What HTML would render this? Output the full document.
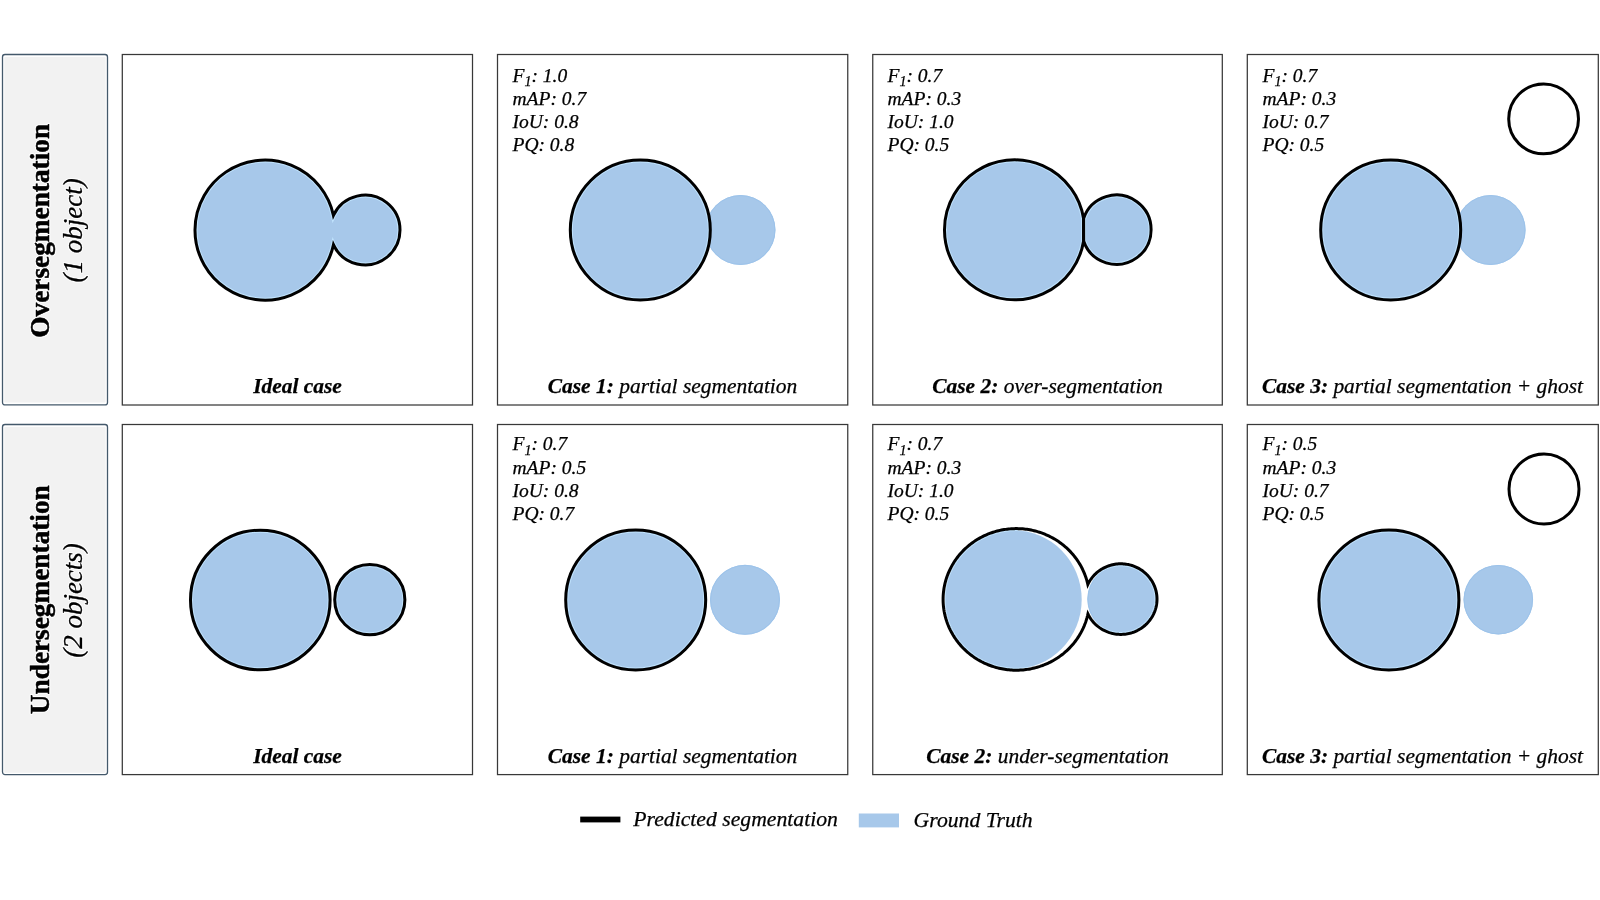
<!DOCTYPE html><html><head><meta charset="utf-8"><style>html,body{margin:0;padding:0;background:#fff;width:1600px;height:900px;overflow:hidden}svg{display:block;will-change:transform}text{font-family:"Liberation Serif",serif}.t{stroke:#000;stroke-width:0.25}</style></head><body>
<svg width="1600" height="900" viewBox="0 0 1600 900">
<rect x="2.5" y="54.5" width="105" height="350.4" rx="2.5" ry="2.5" fill="#fff" stroke="#44596b" stroke-width="1.3"/>
<rect x="4.3" y="56.9" width="101.3" height="345.7" rx="1" fill="#f2f2f2"/>
<g transform="translate(0,229.6) rotate(-90)"><text x="-1.2" y="48.8" text-anchor="middle" font-size="27.3" font-weight="bold" fill="#fff" stroke="#fff" stroke-width="2.6" stroke-linejoin="round">Oversegmentation</text><text x="-0.8" y="81.8" text-anchor="middle" font-size="27" font-style="italic" fill="#fff" stroke="#fff" stroke-width="2.4" stroke-linejoin="round">(1 object)</text><text x="-1.2" y="48.8" text-anchor="middle" font-size="27.3" font-weight="bold" stroke="#000" stroke-width="0.5">Oversegmentation</text><text x="-0.8" y="81.8" text-anchor="middle" font-size="27" font-style="italic" stroke="#000" stroke-width="0.3">(1 object)</text></g>
<rect x="2.5" y="424.5" width="105" height="350.1" rx="2.5" ry="2.5" fill="#fff" stroke="#44596b" stroke-width="1.3"/>
<rect x="4.3" y="427.0" width="101.3" height="345.7" rx="1" fill="#f2f2f2"/>
<g transform="translate(0,599.7) rotate(-90)"><text x="0.0" y="48.8" text-anchor="middle" font-size="27.3" font-weight="bold" fill="#fff" stroke="#fff" stroke-width="2.6" stroke-linejoin="round">Undersegmentation</text><text x="-0.8" y="81.8" text-anchor="middle" font-size="27" font-style="italic" fill="#fff" stroke="#fff" stroke-width="2.4" stroke-linejoin="round">(2 objects)</text><text x="0.0" y="48.8" text-anchor="middle" font-size="27.3" font-weight="bold" stroke="#000" stroke-width="0.5">Undersegmentation</text><text x="-0.8" y="81.8" text-anchor="middle" font-size="27" font-style="italic" stroke="#000" stroke-width="0.3">(2 objects)</text></g>
<rect x="122.3" y="54.5" width="350.2" height="350.5" fill="#fff" stroke="#383838" stroke-width="1.25"/>
<rect x="497.5" y="54.5" width="350.25" height="350.5" fill="#fff" stroke="#383838" stroke-width="1.25"/>
<rect x="872.75" y="54.5" width="349.55" height="350.5" fill="#fff" stroke="#383838" stroke-width="1.25"/>
<rect x="1247.3" y="54.5" width="351.0" height="350.5" fill="#fff" stroke="#383838" stroke-width="1.25"/>
<rect x="122.3" y="424.5" width="350.2" height="350.1" fill="#fff" stroke="#383838" stroke-width="1.25"/>
<rect x="497.5" y="424.5" width="350.25" height="350.1" fill="#fff" stroke="#383838" stroke-width="1.25"/>
<rect x="872.75" y="424.5" width="349.55" height="350.1" fill="#fff" stroke="#383838" stroke-width="1.25"/>
<rect x="1247.3" y="424.5" width="351.0" height="350.1" fill="#fff" stroke="#383838" stroke-width="1.25"/>
<defs><clipPath id="cu"><path d="M333.43,215.38 A70,70 0 1 0 333.45,244.75 A34.9,34.9 0 1 0 333.43,215.38 Z"/></clipPath></defs>
<path d="M333.43,215.38 A70,70 0 1 0 333.45,244.75 A34.9,34.9 0 1 0 333.43,215.38 Z" fill="#a7c8ea"/>
<path d="M333.43,215.38 A70,70 0 1 0 333.45,244.75 A34.9,34.9 0 1 0 333.43,215.38 Z" fill="none" stroke="#c0e3fd" stroke-width="5.0" clip-path="url(#cu)"/>
<path d="M333.43,215.38 A70,70 0 1 0 333.45,244.75 A34.9,34.9 0 1 0 333.43,215.38 Z" fill="none" stroke="#000" stroke-width="3.0" stroke-linejoin="miter"/>
<text x="297.5" y="392.5" text-anchor="middle" class="t" font-size="21.45" font-style="italic" font-weight="bold">Ideal case</text>
<circle cx="740.5" cy="230" r="35" fill="#a7c8ea"/><circle cx="740.5" cy="230" r="34.4" fill="none" stroke="#9cc3ea" stroke-width="1"/>
<circle cx="640.3" cy="230" r="70" fill="#a7c8ea"/><circle cx="640.3" cy="230" r="68.0" fill="none" stroke="#c0e3fd" stroke-width="1"/><circle cx="640.3" cy="230" r="70" fill="none" stroke="#000" stroke-width="3.0"/>
<text x="512.5" y="81.7" class="t" font-size="19.5" font-style="italic">F<tspan font-size="14" dy="4.2">1</tspan><tspan dy="-4.2">: 1.0</tspan></text><text x="512.5" y="104.8" class="t" font-size="19.5" font-style="italic">mAP: 0.7</text><text x="512.5" y="128.1" class="t" font-size="19.5" font-style="italic">IoU: 0.8</text><text x="512.5" y="151.4" class="t" font-size="19.5" font-style="italic">PQ: 0.8</text>
<text x="672.5" y="392.5" text-anchor="middle" class="t" font-size="21.45" font-style="italic"><tspan font-weight="bold">Case 1:</tspan> partial segmentation</text>
<defs><clipPath id="spa"><path d="M1083.57,218.45 A70,70 0 1 0 1083.60,241.01 Z"/></clipPath><clipPath id="spb"><path d="M1083.57,218.45 A34.7,34.7 0 1 1 1083.60,241.01 Z"/></clipPath></defs><path d="M1083.57,218.45 A70,70 0 1 0 1083.60,241.01 Z" fill="#a7c8ea"/><path d="M1083.57,218.45 A70,70 0 1 0 1083.60,241.01 Z" fill="none" stroke="#c0e3fd" stroke-width="5.0" clip-path="url(#spa)"/><path d="M1083.57,218.45 A34.7,34.7 0 1 1 1083.60,241.01 Z" fill="#a7c8ea"/><path d="M1083.57,218.45 A34.7,34.7 0 1 1 1083.60,241.01 Z" fill="none" stroke="#c0e3fd" stroke-width="5.0" clip-path="url(#spb)"/><path d="M1083.57,218.45 A70,70 0 1 0 1083.60,241.01 Z" fill="none" stroke="#000" stroke-width="3.0" stroke-linejoin="miter"/><path d="M1083.57,218.45 A34.7,34.7 0 1 1 1083.60,241.01 Z" fill="none" stroke="#000" stroke-width="3.0" stroke-linejoin="miter"/>
<text x="887.5" y="81.7" class="t" font-size="19.5" font-style="italic">F<tspan font-size="14" dy="4.2">1</tspan><tspan dy="-4.2">: 0.7</tspan></text><text x="887.5" y="104.8" class="t" font-size="19.5" font-style="italic">mAP: 0.3</text><text x="887.5" y="128.1" class="t" font-size="19.5" font-style="italic">IoU: 1.0</text><text x="887.5" y="151.4" class="t" font-size="19.5" font-style="italic">PQ: 0.5</text>
<text x="1047.5" y="392.5" text-anchor="middle" class="t" font-size="21.45" font-style="italic"><tspan font-weight="bold">Case 2:</tspan> over-segmentation</text>
<circle cx="1490.6" cy="230" r="35" fill="#a7c8ea"/><circle cx="1490.6" cy="230" r="34.4" fill="none" stroke="#9cc3ea" stroke-width="1"/>
<circle cx="1390.7" cy="230" r="70" fill="#a7c8ea"/><circle cx="1390.7" cy="230" r="68.0" fill="none" stroke="#c0e3fd" stroke-width="1"/><circle cx="1390.7" cy="230" r="70" fill="none" stroke="#000" stroke-width="3.0"/>
<circle cx="1543.6" cy="118.9" r="34.9" fill="none" stroke="#000" stroke-width="3.0"/>
<text x="1262.5" y="81.7" class="t" font-size="19.5" font-style="italic">F<tspan font-size="14" dy="4.2">1</tspan><tspan dy="-4.2">: 0.7</tspan></text><text x="1262.5" y="104.8" class="t" font-size="19.5" font-style="italic">mAP: 0.3</text><text x="1262.5" y="128.1" class="t" font-size="19.5" font-style="italic">IoU: 0.7</text><text x="1262.5" y="151.4" class="t" font-size="19.5" font-style="italic">PQ: 0.5</text>
<text x="1422.5" y="392.5" text-anchor="middle" class="t" font-size="21.45" font-style="italic"><tspan font-weight="bold">Case 3:</tspan> partial segmentation + ghost</text>
<circle cx="260.3" cy="600" r="69.8" fill="#a7c8ea"/><circle cx="260.3" cy="600" r="67.8" fill="none" stroke="#c0e3fd" stroke-width="1"/><circle cx="260.3" cy="600" r="69.8" fill="none" stroke="#000" stroke-width="3.0"/>
<circle cx="369.8" cy="599.7" r="35.1" fill="#a7c8ea"/><circle cx="369.8" cy="599.7" r="33.1" fill="none" stroke="#c0e3fd" stroke-width="1"/><circle cx="369.8" cy="599.7" r="35.1" fill="none" stroke="#000" stroke-width="3.0"/>
<text x="297.5" y="762.6" text-anchor="middle" class="t" font-size="21.45" font-style="italic" font-weight="bold">Ideal case</text>
<circle cx="745" cy="599.8" r="35" fill="#a7c8ea"/><circle cx="745" cy="599.8" r="34.4" fill="none" stroke="#9cc3ea" stroke-width="1"/>
<circle cx="635.7" cy="600" r="70" fill="#a7c8ea"/><circle cx="635.7" cy="600" r="68.0" fill="none" stroke="#c0e3fd" stroke-width="1"/><circle cx="635.7" cy="600" r="70" fill="none" stroke="#000" stroke-width="3.0"/>
<text x="512.5" y="450.4" class="t" font-size="19.5" font-style="italic">F<tspan font-size="14" dy="4.2">1</tspan><tspan dy="-4.2">: 0.7</tspan></text><text x="512.5" y="473.5" class="t" font-size="19.5" font-style="italic">mAP: 0.5</text><text x="512.5" y="496.8" class="t" font-size="19.5" font-style="italic">IoU: 0.8</text><text x="512.5" y="520.1" class="t" font-size="19.5" font-style="italic">PQ: 0.7</text>
<text x="672.5" y="762.6" text-anchor="middle" class="t" font-size="21.45" font-style="italic"><tspan font-weight="bold">Case 1:</tspan> partial segmentation</text>
<ellipse cx="1013.3" cy="599.6" rx="68.4" ry="69.5" fill="#a7c8ea"/>
<circle cx="1122.1" cy="599.1" r="34.8" fill="#a7c8ea"/><circle cx="1122.1" cy="599.1" r="34.199999999999996" fill="none" stroke="#9cc3ea" stroke-width="1"/>
<defs><clipPath id="uo"><path d="M1087.94,613.92 L1087.64,615.27 L1087.30,616.62 L1086.94,617.96 L1086.55,619.29 L1086.14,620.61 L1085.70,621.93 L1085.23,623.24 L1084.73,624.53 L1084.21,625.82 L1083.66,627.10 L1083.09,628.37 L1082.49,629.63 L1081.87,630.87 L1081.22,632.11 L1080.55,633.33 L1079.85,634.54 L1079.13,635.73 L1078.38,636.91 L1077.61,638.08 L1076.82,639.23 L1076.00,640.37 L1075.16,641.49 L1074.30,642.59 L1073.42,643.68 L1072.51,644.75 L1071.58,645.81 L1070.64,646.84 L1069.67,647.86 L1068.68,648.86 L1067.67,649.84 L1066.64,650.80 L1065.59,651.74 L1064.52,652.67 L1063.44,653.57 L1062.33,654.45 L1061.21,655.31 L1060.07,656.15 L1058.92,656.96 L1057.75,657.76 L1056.56,658.53 L1055.36,659.28 L1054.14,660.01 L1052.91,660.71 L1051.66,661.39 L1050.40,662.05 L1049.13,662.68 L1047.84,663.29 L1046.55,663.87 L1045.24,664.43 L1043.92,664.97 L1042.59,665.48 L1041.25,665.96 L1039.90,666.42 L1038.54,666.85 L1037.17,667.26 L1035.80,667.64 L1034.41,668.00 L1033.02,668.33 L1031.63,668.63 L1030.23,668.91 L1028.82,669.16 L1027.41,669.38 L1025.99,669.58 L1024.57,669.75 L1023.15,669.89 L1021.72,670.01 L1020.29,670.09 L1018.86,670.16 L1017.43,670.19 L1016.00,670.20 L1014.57,670.18 L1013.14,670.13 L1011.71,670.06 L1010.29,669.96 L1008.86,669.83 L1007.44,669.68 L1006.02,669.50 L1004.61,669.29 L1003.20,669.06 L1001.79,668.80 L1000.39,668.51 L999.00,668.19 L997.61,667.85 L996.23,667.49 L994.86,667.09 L993.50,666.68 L992.14,666.23 L990.79,665.76 L989.46,665.27 L988.13,664.75 L986.82,664.20 L985.51,663.63 L984.22,663.04 L982.94,662.42 L981.67,661.78 L980.42,661.11 L979.18,660.42 L977.95,659.71 L976.74,658.97 L975.55,658.21 L974.36,657.43 L973.20,656.63 L972.05,655.80 L970.92,654.95 L969.81,654.08 L968.71,653.20 L967.63,652.29 L966.57,651.36 L965.53,650.41 L964.51,649.44 L963.51,648.45 L962.53,647.44 L961.57,646.41 L960.63,645.37 L959.71,644.31 L958.81,643.23 L957.94,642.14 L957.09,641.02 L956.26,639.90 L955.45,638.75 L954.67,637.60 L953.91,636.42 L953.17,635.24 L952.46,634.04 L951.77,632.82 L951.11,631.60 L950.47,630.36 L949.86,629.11 L949.27,627.85 L948.71,626.57 L948.17,625.29 L947.66,624.00 L947.18,622.69 L946.72,621.38 L946.29,620.06 L945.88,618.74 L945.51,617.40 L945.16,616.06 L944.83,614.71 L944.54,613.36 L944.27,612.00 L944.03,610.63 L943.81,609.26 L943.63,607.89 L943.47,606.52 L943.34,605.14 L943.24,603.76 L943.16,602.38 L943.12,600.99 L943.10,599.61 L943.11,598.23 L943.15,596.84 L943.21,595.46 L943.31,594.08 L943.43,592.70 L943.58,591.32 L943.76,589.95 L943.96,588.58 L944.19,587.21 L944.45,585.85 L944.74,584.50 L945.05,583.15 L945.40,581.80 L945.77,580.47 L946.16,579.14 L946.58,577.81 L947.03,576.50 L947.51,575.20 L948.01,573.90 L948.54,572.61 L949.10,571.34 L949.68,570.07 L950.28,568.82 L950.91,567.58 L951.57,566.35 L952.25,565.13 L952.95,563.92 L953.68,562.73 L954.43,561.56 L955.21,560.39 L956.01,559.25 L956.83,558.12 L957.68,557.00 L958.55,555.90 L959.44,554.82 L960.35,553.75 L961.28,552.70 L962.24,551.67 L963.21,550.66 L964.21,549.66 L965.22,548.69 L966.26,547.73 L967.31,546.79 L968.38,545.88 L969.47,544.98 L970.58,544.11 L971.71,543.25 L972.85,542.42 L974.01,541.61 L975.19,540.82 L976.38,540.06 L977.59,539.31 L978.81,538.59 L980.04,537.89 L981.29,537.22 L982.56,536.57 L983.83,535.95 L985.12,535.34 L986.42,534.77 L987.73,534.21 L989.06,533.69 L990.39,533.18 L991.73,532.71 L993.08,532.25 L994.45,531.83 L995.82,531.43 L997.19,531.05 L998.58,530.71 L999.97,530.38 L1001.37,530.09 L1002.77,529.82 L1004.18,529.58 L1005.59,529.36 L1007.01,529.17 L1008.43,529.01 L1009.86,528.87 L1011.28,528.77 L1012.71,528.69 L1014.14,528.63 L1015.57,528.60 L1017.00,528.60 L1018.43,528.63 L1019.86,528.68 L1021.29,528.76 L1022.72,528.87 L1024.14,529.01 L1025.56,529.17 L1026.98,529.36 L1028.39,529.57 L1029.80,529.81 L1031.21,530.08 L1032.60,530.38 L1034.00,530.70 L1035.38,531.05 L1036.76,531.42 L1038.13,531.82 L1039.49,532.25 L1040.84,532.70 L1042.19,533.17 L1043.52,533.68 L1044.84,534.20 L1046.15,534.76 L1047.45,535.33 L1048.74,535.93 L1050.02,536.56 L1051.28,537.21 L1052.53,537.88 L1053.77,538.58 L1054.99,539.30 L1056.20,540.04 L1057.39,540.81 L1058.57,541.60 L1059.73,542.41 L1060.87,543.24 L1062.00,544.09 L1063.11,544.96 L1064.20,545.86 L1065.27,546.78 L1066.32,547.71 L1067.36,548.67 L1068.37,549.64 L1069.37,550.64 L1070.35,551.65 L1071.30,552.68 L1072.23,553.73 L1073.15,554.79 L1074.04,555.88 L1074.90,556.98 L1075.75,558.09 L1076.57,559.23 L1077.37,560.37 L1078.15,561.53 L1078.90,562.71 L1079.63,563.90 L1080.34,565.11 L1081.02,566.32 L1081.68,567.55 L1082.31,568.80 L1082.91,570.05 L1083.49,571.31 L1084.05,572.59 L1084.58,573.88 L1085.08,575.17 L1085.56,576.48 L1086.01,577.79 L1086.43,579.11 L1086.83,580.44 L1087.20,581.78 L1087.54,583.12 L1087.85,584.47 L1088.38,583.39 L1088.95,582.33 L1089.55,581.29 L1090.18,580.26 L1090.86,579.26 L1091.56,578.29 L1092.30,577.33 L1093.08,576.40 L1093.88,575.50 L1094.72,574.62 L1095.58,573.78 L1096.48,572.96 L1097.40,572.17 L1098.35,571.41 L1099.32,570.68 L1100.32,569.99 L1101.35,569.33 L1102.39,568.71 L1103.46,568.11 L1104.54,567.56 L1105.65,567.04 L1106.77,566.56 L1107.91,566.11 L1109.07,565.71 L1110.23,565.34 L1111.41,565.01 L1112.60,564.72 L1113.80,564.47 L1115.01,564.25 L1116.22,564.08 L1117.44,563.95 L1118.67,563.86 L1119.89,563.81 L1121.12,563.80 L1122.34,563.83 L1123.57,563.90 L1124.79,564.02 L1126.01,564.17 L1127.22,564.36 L1128.42,564.59 L1129.62,564.86 L1130.80,565.17 L1131.97,565.52 L1133.14,565.91 L1134.28,566.34 L1135.41,566.80 L1136.53,567.30 L1137.62,567.84 L1138.70,568.42 L1139.75,569.03 L1140.79,569.67 L1141.80,570.35 L1142.79,571.06 L1143.75,571.80 L1144.68,572.57 L1145.59,573.38 L1146.47,574.21 L1147.32,575.07 L1148.14,575.96 L1148.93,576.88 L1149.69,577.82 L1150.41,578.79 L1151.10,579.78 L1151.75,580.79 L1152.37,581.83 L1152.95,582.88 L1153.50,583.95 L1154.00,585.04 L1154.47,586.14 L1154.90,587.26 L1155.30,588.40 L1155.65,589.54 L1155.96,590.70 L1156.23,591.87 L1156.46,593.04 L1156.65,594.23 L1156.80,595.41 L1156.91,596.60 L1156.98,597.80 L1157.00,598.99 L1156.98,600.19 L1156.92,601.39 L1156.82,602.58 L1156.68,603.77 L1156.50,604.95 L1156.28,606.13 L1156.01,607.29 L1155.71,608.45 L1155.36,609.60 L1154.98,610.74 L1154.55,611.86 L1154.09,612.97 L1153.59,614.06 L1153.05,615.13 L1152.47,616.19 L1151.86,617.23 L1151.21,618.24 L1150.53,619.24 L1149.81,620.21 L1149.06,621.15 L1148.28,622.08 L1147.47,622.97 L1146.62,623.84 L1145.75,624.68 L1144.85,625.49 L1143.91,626.27 L1142.96,627.01 L1141.97,627.73 L1140.97,628.41 L1139.94,629.06 L1138.89,629.68 L1137.81,630.26 L1136.72,630.80 L1135.61,631.31 L1134.48,631.78 L1133.34,632.22 L1132.18,632.61 L1131.01,632.97 L1129.83,633.29 L1128.63,633.56 L1127.43,633.80 L1126.22,634.00 L1125.01,634.16 L1123.78,634.28 L1122.56,634.36 L1121.33,634.40 L1120.11,634.39 L1118.88,634.35 L1117.66,634.27 L1116.44,634.14 L1115.22,633.98 L1114.01,633.77 L1112.81,633.53 L1111.62,633.25 L1110.44,632.92 L1109.27,632.56 L1108.11,632.16 L1106.97,631.72 L1105.85,631.25 L1104.74,630.73 L1103.65,630.19 L1102.58,629.60 L1101.53,628.98 L1100.50,628.33 L1099.50,627.64 L1098.52,626.92 L1097.56,626.17 L1096.64,625.38 L1095.74,624.57 L1094.87,623.73 L1094.02,622.86 L1093.21,621.96 L1092.44,621.03 L1091.69,620.08 L1090.98,619.11 L1090.30,618.11 L1089.66,617.09 L1089.05,616.05 L1088.48,615.00 Z"/></clipPath><clipPath id="ub"><ellipse cx="1013.3" cy="599.6" rx="68.4" ry="69.5"/></clipPath><clipPath id="us"><circle cx="1122.1" cy="599.1" r="34.8"/></clipPath></defs>
<g clip-path="url(#ub)"><path d="M1087.94,613.92 L1087.64,615.27 L1087.30,616.62 L1086.94,617.96 L1086.55,619.29 L1086.14,620.61 L1085.70,621.93 L1085.23,623.24 L1084.73,624.53 L1084.21,625.82 L1083.66,627.10 L1083.09,628.37 L1082.49,629.63 L1081.87,630.87 L1081.22,632.11 L1080.55,633.33 L1079.85,634.54 L1079.13,635.73 L1078.38,636.91 L1077.61,638.08 L1076.82,639.23 L1076.00,640.37 L1075.16,641.49 L1074.30,642.59 L1073.42,643.68 L1072.51,644.75 L1071.58,645.81 L1070.64,646.84 L1069.67,647.86 L1068.68,648.86 L1067.67,649.84 L1066.64,650.80 L1065.59,651.74 L1064.52,652.67 L1063.44,653.57 L1062.33,654.45 L1061.21,655.31 L1060.07,656.15 L1058.92,656.96 L1057.75,657.76 L1056.56,658.53 L1055.36,659.28 L1054.14,660.01 L1052.91,660.71 L1051.66,661.39 L1050.40,662.05 L1049.13,662.68 L1047.84,663.29 L1046.55,663.87 L1045.24,664.43 L1043.92,664.97 L1042.59,665.48 L1041.25,665.96 L1039.90,666.42 L1038.54,666.85 L1037.17,667.26 L1035.80,667.64 L1034.41,668.00 L1033.02,668.33 L1031.63,668.63 L1030.23,668.91 L1028.82,669.16 L1027.41,669.38 L1025.99,669.58 L1024.57,669.75 L1023.15,669.89 L1021.72,670.01 L1020.29,670.09 L1018.86,670.16 L1017.43,670.19 L1016.00,670.20 L1014.57,670.18 L1013.14,670.13 L1011.71,670.06 L1010.29,669.96 L1008.86,669.83 L1007.44,669.68 L1006.02,669.50 L1004.61,669.29 L1003.20,669.06 L1001.79,668.80 L1000.39,668.51 L999.00,668.19 L997.61,667.85 L996.23,667.49 L994.86,667.09 L993.50,666.68 L992.14,666.23 L990.79,665.76 L989.46,665.27 L988.13,664.75 L986.82,664.20 L985.51,663.63 L984.22,663.04 L982.94,662.42 L981.67,661.78 L980.42,661.11 L979.18,660.42 L977.95,659.71 L976.74,658.97 L975.55,658.21 L974.36,657.43 L973.20,656.63 L972.05,655.80 L970.92,654.95 L969.81,654.08 L968.71,653.20 L967.63,652.29 L966.57,651.36 L965.53,650.41 L964.51,649.44 L963.51,648.45 L962.53,647.44 L961.57,646.41 L960.63,645.37 L959.71,644.31 L958.81,643.23 L957.94,642.14 L957.09,641.02 L956.26,639.90 L955.45,638.75 L954.67,637.60 L953.91,636.42 L953.17,635.24 L952.46,634.04 L951.77,632.82 L951.11,631.60 L950.47,630.36 L949.86,629.11 L949.27,627.85 L948.71,626.57 L948.17,625.29 L947.66,624.00 L947.18,622.69 L946.72,621.38 L946.29,620.06 L945.88,618.74 L945.51,617.40 L945.16,616.06 L944.83,614.71 L944.54,613.36 L944.27,612.00 L944.03,610.63 L943.81,609.26 L943.63,607.89 L943.47,606.52 L943.34,605.14 L943.24,603.76 L943.16,602.38 L943.12,600.99 L943.10,599.61 L943.11,598.23 L943.15,596.84 L943.21,595.46 L943.31,594.08 L943.43,592.70 L943.58,591.32 L943.76,589.95 L943.96,588.58 L944.19,587.21 L944.45,585.85 L944.74,584.50 L945.05,583.15 L945.40,581.80 L945.77,580.47 L946.16,579.14 L946.58,577.81 L947.03,576.50 L947.51,575.20 L948.01,573.90 L948.54,572.61 L949.10,571.34 L949.68,570.07 L950.28,568.82 L950.91,567.58 L951.57,566.35 L952.25,565.13 L952.95,563.92 L953.68,562.73 L954.43,561.56 L955.21,560.39 L956.01,559.25 L956.83,558.12 L957.68,557.00 L958.55,555.90 L959.44,554.82 L960.35,553.75 L961.28,552.70 L962.24,551.67 L963.21,550.66 L964.21,549.66 L965.22,548.69 L966.26,547.73 L967.31,546.79 L968.38,545.88 L969.47,544.98 L970.58,544.11 L971.71,543.25 L972.85,542.42 L974.01,541.61 L975.19,540.82 L976.38,540.06 L977.59,539.31 L978.81,538.59 L980.04,537.89 L981.29,537.22 L982.56,536.57 L983.83,535.95 L985.12,535.34 L986.42,534.77 L987.73,534.21 L989.06,533.69 L990.39,533.18 L991.73,532.71 L993.08,532.25 L994.45,531.83 L995.82,531.43 L997.19,531.05 L998.58,530.71 L999.97,530.38 L1001.37,530.09 L1002.77,529.82 L1004.18,529.58 L1005.59,529.36 L1007.01,529.17 L1008.43,529.01 L1009.86,528.87 L1011.28,528.77 L1012.71,528.69 L1014.14,528.63 L1015.57,528.60 L1017.00,528.60 L1018.43,528.63 L1019.86,528.68 L1021.29,528.76 L1022.72,528.87 L1024.14,529.01 L1025.56,529.17 L1026.98,529.36 L1028.39,529.57 L1029.80,529.81 L1031.21,530.08 L1032.60,530.38 L1034.00,530.70 L1035.38,531.05 L1036.76,531.42 L1038.13,531.82 L1039.49,532.25 L1040.84,532.70 L1042.19,533.17 L1043.52,533.68 L1044.84,534.20 L1046.15,534.76 L1047.45,535.33 L1048.74,535.93 L1050.02,536.56 L1051.28,537.21 L1052.53,537.88 L1053.77,538.58 L1054.99,539.30 L1056.20,540.04 L1057.39,540.81 L1058.57,541.60 L1059.73,542.41 L1060.87,543.24 L1062.00,544.09 L1063.11,544.96 L1064.20,545.86 L1065.27,546.78 L1066.32,547.71 L1067.36,548.67 L1068.37,549.64 L1069.37,550.64 L1070.35,551.65 L1071.30,552.68 L1072.23,553.73 L1073.15,554.79 L1074.04,555.88 L1074.90,556.98 L1075.75,558.09 L1076.57,559.23 L1077.37,560.37 L1078.15,561.53 L1078.90,562.71 L1079.63,563.90 L1080.34,565.11 L1081.02,566.32 L1081.68,567.55 L1082.31,568.80 L1082.91,570.05 L1083.49,571.31 L1084.05,572.59 L1084.58,573.88 L1085.08,575.17 L1085.56,576.48 L1086.01,577.79 L1086.43,579.11 L1086.83,580.44 L1087.20,581.78 L1087.54,583.12 L1087.85,584.47 L1088.38,583.39 L1088.95,582.33 L1089.55,581.29 L1090.18,580.26 L1090.86,579.26 L1091.56,578.29 L1092.30,577.33 L1093.08,576.40 L1093.88,575.50 L1094.72,574.62 L1095.58,573.78 L1096.48,572.96 L1097.40,572.17 L1098.35,571.41 L1099.32,570.68 L1100.32,569.99 L1101.35,569.33 L1102.39,568.71 L1103.46,568.11 L1104.54,567.56 L1105.65,567.04 L1106.77,566.56 L1107.91,566.11 L1109.07,565.71 L1110.23,565.34 L1111.41,565.01 L1112.60,564.72 L1113.80,564.47 L1115.01,564.25 L1116.22,564.08 L1117.44,563.95 L1118.67,563.86 L1119.89,563.81 L1121.12,563.80 L1122.34,563.83 L1123.57,563.90 L1124.79,564.02 L1126.01,564.17 L1127.22,564.36 L1128.42,564.59 L1129.62,564.86 L1130.80,565.17 L1131.97,565.52 L1133.14,565.91 L1134.28,566.34 L1135.41,566.80 L1136.53,567.30 L1137.62,567.84 L1138.70,568.42 L1139.75,569.03 L1140.79,569.67 L1141.80,570.35 L1142.79,571.06 L1143.75,571.80 L1144.68,572.57 L1145.59,573.38 L1146.47,574.21 L1147.32,575.07 L1148.14,575.96 L1148.93,576.88 L1149.69,577.82 L1150.41,578.79 L1151.10,579.78 L1151.75,580.79 L1152.37,581.83 L1152.95,582.88 L1153.50,583.95 L1154.00,585.04 L1154.47,586.14 L1154.90,587.26 L1155.30,588.40 L1155.65,589.54 L1155.96,590.70 L1156.23,591.87 L1156.46,593.04 L1156.65,594.23 L1156.80,595.41 L1156.91,596.60 L1156.98,597.80 L1157.00,598.99 L1156.98,600.19 L1156.92,601.39 L1156.82,602.58 L1156.68,603.77 L1156.50,604.95 L1156.28,606.13 L1156.01,607.29 L1155.71,608.45 L1155.36,609.60 L1154.98,610.74 L1154.55,611.86 L1154.09,612.97 L1153.59,614.06 L1153.05,615.13 L1152.47,616.19 L1151.86,617.23 L1151.21,618.24 L1150.53,619.24 L1149.81,620.21 L1149.06,621.15 L1148.28,622.08 L1147.47,622.97 L1146.62,623.84 L1145.75,624.68 L1144.85,625.49 L1143.91,626.27 L1142.96,627.01 L1141.97,627.73 L1140.97,628.41 L1139.94,629.06 L1138.89,629.68 L1137.81,630.26 L1136.72,630.80 L1135.61,631.31 L1134.48,631.78 L1133.34,632.22 L1132.18,632.61 L1131.01,632.97 L1129.83,633.29 L1128.63,633.56 L1127.43,633.80 L1126.22,634.00 L1125.01,634.16 L1123.78,634.28 L1122.56,634.36 L1121.33,634.40 L1120.11,634.39 L1118.88,634.35 L1117.66,634.27 L1116.44,634.14 L1115.22,633.98 L1114.01,633.77 L1112.81,633.53 L1111.62,633.25 L1110.44,632.92 L1109.27,632.56 L1108.11,632.16 L1106.97,631.72 L1105.85,631.25 L1104.74,630.73 L1103.65,630.19 L1102.58,629.60 L1101.53,628.98 L1100.50,628.33 L1099.50,627.64 L1098.52,626.92 L1097.56,626.17 L1096.64,625.38 L1095.74,624.57 L1094.87,623.73 L1094.02,622.86 L1093.21,621.96 L1092.44,621.03 L1091.69,620.08 L1090.98,619.11 L1090.30,618.11 L1089.66,617.09 L1089.05,616.05 L1088.48,615.00 Z" fill="none" stroke="#c0e3fd" stroke-width="5.0" clip-path="url(#uo)"/></g>
<g clip-path="url(#us)"><path d="M1087.94,613.92 L1087.64,615.27 L1087.30,616.62 L1086.94,617.96 L1086.55,619.29 L1086.14,620.61 L1085.70,621.93 L1085.23,623.24 L1084.73,624.53 L1084.21,625.82 L1083.66,627.10 L1083.09,628.37 L1082.49,629.63 L1081.87,630.87 L1081.22,632.11 L1080.55,633.33 L1079.85,634.54 L1079.13,635.73 L1078.38,636.91 L1077.61,638.08 L1076.82,639.23 L1076.00,640.37 L1075.16,641.49 L1074.30,642.59 L1073.42,643.68 L1072.51,644.75 L1071.58,645.81 L1070.64,646.84 L1069.67,647.86 L1068.68,648.86 L1067.67,649.84 L1066.64,650.80 L1065.59,651.74 L1064.52,652.67 L1063.44,653.57 L1062.33,654.45 L1061.21,655.31 L1060.07,656.15 L1058.92,656.96 L1057.75,657.76 L1056.56,658.53 L1055.36,659.28 L1054.14,660.01 L1052.91,660.71 L1051.66,661.39 L1050.40,662.05 L1049.13,662.68 L1047.84,663.29 L1046.55,663.87 L1045.24,664.43 L1043.92,664.97 L1042.59,665.48 L1041.25,665.96 L1039.90,666.42 L1038.54,666.85 L1037.17,667.26 L1035.80,667.64 L1034.41,668.00 L1033.02,668.33 L1031.63,668.63 L1030.23,668.91 L1028.82,669.16 L1027.41,669.38 L1025.99,669.58 L1024.57,669.75 L1023.15,669.89 L1021.72,670.01 L1020.29,670.09 L1018.86,670.16 L1017.43,670.19 L1016.00,670.20 L1014.57,670.18 L1013.14,670.13 L1011.71,670.06 L1010.29,669.96 L1008.86,669.83 L1007.44,669.68 L1006.02,669.50 L1004.61,669.29 L1003.20,669.06 L1001.79,668.80 L1000.39,668.51 L999.00,668.19 L997.61,667.85 L996.23,667.49 L994.86,667.09 L993.50,666.68 L992.14,666.23 L990.79,665.76 L989.46,665.27 L988.13,664.75 L986.82,664.20 L985.51,663.63 L984.22,663.04 L982.94,662.42 L981.67,661.78 L980.42,661.11 L979.18,660.42 L977.95,659.71 L976.74,658.97 L975.55,658.21 L974.36,657.43 L973.20,656.63 L972.05,655.80 L970.92,654.95 L969.81,654.08 L968.71,653.20 L967.63,652.29 L966.57,651.36 L965.53,650.41 L964.51,649.44 L963.51,648.45 L962.53,647.44 L961.57,646.41 L960.63,645.37 L959.71,644.31 L958.81,643.23 L957.94,642.14 L957.09,641.02 L956.26,639.90 L955.45,638.75 L954.67,637.60 L953.91,636.42 L953.17,635.24 L952.46,634.04 L951.77,632.82 L951.11,631.60 L950.47,630.36 L949.86,629.11 L949.27,627.85 L948.71,626.57 L948.17,625.29 L947.66,624.00 L947.18,622.69 L946.72,621.38 L946.29,620.06 L945.88,618.74 L945.51,617.40 L945.16,616.06 L944.83,614.71 L944.54,613.36 L944.27,612.00 L944.03,610.63 L943.81,609.26 L943.63,607.89 L943.47,606.52 L943.34,605.14 L943.24,603.76 L943.16,602.38 L943.12,600.99 L943.10,599.61 L943.11,598.23 L943.15,596.84 L943.21,595.46 L943.31,594.08 L943.43,592.70 L943.58,591.32 L943.76,589.95 L943.96,588.58 L944.19,587.21 L944.45,585.85 L944.74,584.50 L945.05,583.15 L945.40,581.80 L945.77,580.47 L946.16,579.14 L946.58,577.81 L947.03,576.50 L947.51,575.20 L948.01,573.90 L948.54,572.61 L949.10,571.34 L949.68,570.07 L950.28,568.82 L950.91,567.58 L951.57,566.35 L952.25,565.13 L952.95,563.92 L953.68,562.73 L954.43,561.56 L955.21,560.39 L956.01,559.25 L956.83,558.12 L957.68,557.00 L958.55,555.90 L959.44,554.82 L960.35,553.75 L961.28,552.70 L962.24,551.67 L963.21,550.66 L964.21,549.66 L965.22,548.69 L966.26,547.73 L967.31,546.79 L968.38,545.88 L969.47,544.98 L970.58,544.11 L971.71,543.25 L972.85,542.42 L974.01,541.61 L975.19,540.82 L976.38,540.06 L977.59,539.31 L978.81,538.59 L980.04,537.89 L981.29,537.22 L982.56,536.57 L983.83,535.95 L985.12,535.34 L986.42,534.77 L987.73,534.21 L989.06,533.69 L990.39,533.18 L991.73,532.71 L993.08,532.25 L994.45,531.83 L995.82,531.43 L997.19,531.05 L998.58,530.71 L999.97,530.38 L1001.37,530.09 L1002.77,529.82 L1004.18,529.58 L1005.59,529.36 L1007.01,529.17 L1008.43,529.01 L1009.86,528.87 L1011.28,528.77 L1012.71,528.69 L1014.14,528.63 L1015.57,528.60 L1017.00,528.60 L1018.43,528.63 L1019.86,528.68 L1021.29,528.76 L1022.72,528.87 L1024.14,529.01 L1025.56,529.17 L1026.98,529.36 L1028.39,529.57 L1029.80,529.81 L1031.21,530.08 L1032.60,530.38 L1034.00,530.70 L1035.38,531.05 L1036.76,531.42 L1038.13,531.82 L1039.49,532.25 L1040.84,532.70 L1042.19,533.17 L1043.52,533.68 L1044.84,534.20 L1046.15,534.76 L1047.45,535.33 L1048.74,535.93 L1050.02,536.56 L1051.28,537.21 L1052.53,537.88 L1053.77,538.58 L1054.99,539.30 L1056.20,540.04 L1057.39,540.81 L1058.57,541.60 L1059.73,542.41 L1060.87,543.24 L1062.00,544.09 L1063.11,544.96 L1064.20,545.86 L1065.27,546.78 L1066.32,547.71 L1067.36,548.67 L1068.37,549.64 L1069.37,550.64 L1070.35,551.65 L1071.30,552.68 L1072.23,553.73 L1073.15,554.79 L1074.04,555.88 L1074.90,556.98 L1075.75,558.09 L1076.57,559.23 L1077.37,560.37 L1078.15,561.53 L1078.90,562.71 L1079.63,563.90 L1080.34,565.11 L1081.02,566.32 L1081.68,567.55 L1082.31,568.80 L1082.91,570.05 L1083.49,571.31 L1084.05,572.59 L1084.58,573.88 L1085.08,575.17 L1085.56,576.48 L1086.01,577.79 L1086.43,579.11 L1086.83,580.44 L1087.20,581.78 L1087.54,583.12 L1087.85,584.47 L1088.38,583.39 L1088.95,582.33 L1089.55,581.29 L1090.18,580.26 L1090.86,579.26 L1091.56,578.29 L1092.30,577.33 L1093.08,576.40 L1093.88,575.50 L1094.72,574.62 L1095.58,573.78 L1096.48,572.96 L1097.40,572.17 L1098.35,571.41 L1099.32,570.68 L1100.32,569.99 L1101.35,569.33 L1102.39,568.71 L1103.46,568.11 L1104.54,567.56 L1105.65,567.04 L1106.77,566.56 L1107.91,566.11 L1109.07,565.71 L1110.23,565.34 L1111.41,565.01 L1112.60,564.72 L1113.80,564.47 L1115.01,564.25 L1116.22,564.08 L1117.44,563.95 L1118.67,563.86 L1119.89,563.81 L1121.12,563.80 L1122.34,563.83 L1123.57,563.90 L1124.79,564.02 L1126.01,564.17 L1127.22,564.36 L1128.42,564.59 L1129.62,564.86 L1130.80,565.17 L1131.97,565.52 L1133.14,565.91 L1134.28,566.34 L1135.41,566.80 L1136.53,567.30 L1137.62,567.84 L1138.70,568.42 L1139.75,569.03 L1140.79,569.67 L1141.80,570.35 L1142.79,571.06 L1143.75,571.80 L1144.68,572.57 L1145.59,573.38 L1146.47,574.21 L1147.32,575.07 L1148.14,575.96 L1148.93,576.88 L1149.69,577.82 L1150.41,578.79 L1151.10,579.78 L1151.75,580.79 L1152.37,581.83 L1152.95,582.88 L1153.50,583.95 L1154.00,585.04 L1154.47,586.14 L1154.90,587.26 L1155.30,588.40 L1155.65,589.54 L1155.96,590.70 L1156.23,591.87 L1156.46,593.04 L1156.65,594.23 L1156.80,595.41 L1156.91,596.60 L1156.98,597.80 L1157.00,598.99 L1156.98,600.19 L1156.92,601.39 L1156.82,602.58 L1156.68,603.77 L1156.50,604.95 L1156.28,606.13 L1156.01,607.29 L1155.71,608.45 L1155.36,609.60 L1154.98,610.74 L1154.55,611.86 L1154.09,612.97 L1153.59,614.06 L1153.05,615.13 L1152.47,616.19 L1151.86,617.23 L1151.21,618.24 L1150.53,619.24 L1149.81,620.21 L1149.06,621.15 L1148.28,622.08 L1147.47,622.97 L1146.62,623.84 L1145.75,624.68 L1144.85,625.49 L1143.91,626.27 L1142.96,627.01 L1141.97,627.73 L1140.97,628.41 L1139.94,629.06 L1138.89,629.68 L1137.81,630.26 L1136.72,630.80 L1135.61,631.31 L1134.48,631.78 L1133.34,632.22 L1132.18,632.61 L1131.01,632.97 L1129.83,633.29 L1128.63,633.56 L1127.43,633.80 L1126.22,634.00 L1125.01,634.16 L1123.78,634.28 L1122.56,634.36 L1121.33,634.40 L1120.11,634.39 L1118.88,634.35 L1117.66,634.27 L1116.44,634.14 L1115.22,633.98 L1114.01,633.77 L1112.81,633.53 L1111.62,633.25 L1110.44,632.92 L1109.27,632.56 L1108.11,632.16 L1106.97,631.72 L1105.85,631.25 L1104.74,630.73 L1103.65,630.19 L1102.58,629.60 L1101.53,628.98 L1100.50,628.33 L1099.50,627.64 L1098.52,626.92 L1097.56,626.17 L1096.64,625.38 L1095.74,624.57 L1094.87,623.73 L1094.02,622.86 L1093.21,621.96 L1092.44,621.03 L1091.69,620.08 L1090.98,619.11 L1090.30,618.11 L1089.66,617.09 L1089.05,616.05 L1088.48,615.00 Z" fill="none" stroke="#c0e3fd" stroke-width="5.0" clip-path="url(#uo)"/></g>
<path d="M1087.94,613.92 L1087.64,615.27 L1087.30,616.62 L1086.94,617.96 L1086.55,619.29 L1086.14,620.61 L1085.70,621.93 L1085.23,623.24 L1084.73,624.53 L1084.21,625.82 L1083.66,627.10 L1083.09,628.37 L1082.49,629.63 L1081.87,630.87 L1081.22,632.11 L1080.55,633.33 L1079.85,634.54 L1079.13,635.73 L1078.38,636.91 L1077.61,638.08 L1076.82,639.23 L1076.00,640.37 L1075.16,641.49 L1074.30,642.59 L1073.42,643.68 L1072.51,644.75 L1071.58,645.81 L1070.64,646.84 L1069.67,647.86 L1068.68,648.86 L1067.67,649.84 L1066.64,650.80 L1065.59,651.74 L1064.52,652.67 L1063.44,653.57 L1062.33,654.45 L1061.21,655.31 L1060.07,656.15 L1058.92,656.96 L1057.75,657.76 L1056.56,658.53 L1055.36,659.28 L1054.14,660.01 L1052.91,660.71 L1051.66,661.39 L1050.40,662.05 L1049.13,662.68 L1047.84,663.29 L1046.55,663.87 L1045.24,664.43 L1043.92,664.97 L1042.59,665.48 L1041.25,665.96 L1039.90,666.42 L1038.54,666.85 L1037.17,667.26 L1035.80,667.64 L1034.41,668.00 L1033.02,668.33 L1031.63,668.63 L1030.23,668.91 L1028.82,669.16 L1027.41,669.38 L1025.99,669.58 L1024.57,669.75 L1023.15,669.89 L1021.72,670.01 L1020.29,670.09 L1018.86,670.16 L1017.43,670.19 L1016.00,670.20 L1014.57,670.18 L1013.14,670.13 L1011.71,670.06 L1010.29,669.96 L1008.86,669.83 L1007.44,669.68 L1006.02,669.50 L1004.61,669.29 L1003.20,669.06 L1001.79,668.80 L1000.39,668.51 L999.00,668.19 L997.61,667.85 L996.23,667.49 L994.86,667.09 L993.50,666.68 L992.14,666.23 L990.79,665.76 L989.46,665.27 L988.13,664.75 L986.82,664.20 L985.51,663.63 L984.22,663.04 L982.94,662.42 L981.67,661.78 L980.42,661.11 L979.18,660.42 L977.95,659.71 L976.74,658.97 L975.55,658.21 L974.36,657.43 L973.20,656.63 L972.05,655.80 L970.92,654.95 L969.81,654.08 L968.71,653.20 L967.63,652.29 L966.57,651.36 L965.53,650.41 L964.51,649.44 L963.51,648.45 L962.53,647.44 L961.57,646.41 L960.63,645.37 L959.71,644.31 L958.81,643.23 L957.94,642.14 L957.09,641.02 L956.26,639.90 L955.45,638.75 L954.67,637.60 L953.91,636.42 L953.17,635.24 L952.46,634.04 L951.77,632.82 L951.11,631.60 L950.47,630.36 L949.86,629.11 L949.27,627.85 L948.71,626.57 L948.17,625.29 L947.66,624.00 L947.18,622.69 L946.72,621.38 L946.29,620.06 L945.88,618.74 L945.51,617.40 L945.16,616.06 L944.83,614.71 L944.54,613.36 L944.27,612.00 L944.03,610.63 L943.81,609.26 L943.63,607.89 L943.47,606.52 L943.34,605.14 L943.24,603.76 L943.16,602.38 L943.12,600.99 L943.10,599.61 L943.11,598.23 L943.15,596.84 L943.21,595.46 L943.31,594.08 L943.43,592.70 L943.58,591.32 L943.76,589.95 L943.96,588.58 L944.19,587.21 L944.45,585.85 L944.74,584.50 L945.05,583.15 L945.40,581.80 L945.77,580.47 L946.16,579.14 L946.58,577.81 L947.03,576.50 L947.51,575.20 L948.01,573.90 L948.54,572.61 L949.10,571.34 L949.68,570.07 L950.28,568.82 L950.91,567.58 L951.57,566.35 L952.25,565.13 L952.95,563.92 L953.68,562.73 L954.43,561.56 L955.21,560.39 L956.01,559.25 L956.83,558.12 L957.68,557.00 L958.55,555.90 L959.44,554.82 L960.35,553.75 L961.28,552.70 L962.24,551.67 L963.21,550.66 L964.21,549.66 L965.22,548.69 L966.26,547.73 L967.31,546.79 L968.38,545.88 L969.47,544.98 L970.58,544.11 L971.71,543.25 L972.85,542.42 L974.01,541.61 L975.19,540.82 L976.38,540.06 L977.59,539.31 L978.81,538.59 L980.04,537.89 L981.29,537.22 L982.56,536.57 L983.83,535.95 L985.12,535.34 L986.42,534.77 L987.73,534.21 L989.06,533.69 L990.39,533.18 L991.73,532.71 L993.08,532.25 L994.45,531.83 L995.82,531.43 L997.19,531.05 L998.58,530.71 L999.97,530.38 L1001.37,530.09 L1002.77,529.82 L1004.18,529.58 L1005.59,529.36 L1007.01,529.17 L1008.43,529.01 L1009.86,528.87 L1011.28,528.77 L1012.71,528.69 L1014.14,528.63 L1015.57,528.60 L1017.00,528.60 L1018.43,528.63 L1019.86,528.68 L1021.29,528.76 L1022.72,528.87 L1024.14,529.01 L1025.56,529.17 L1026.98,529.36 L1028.39,529.57 L1029.80,529.81 L1031.21,530.08 L1032.60,530.38 L1034.00,530.70 L1035.38,531.05 L1036.76,531.42 L1038.13,531.82 L1039.49,532.25 L1040.84,532.70 L1042.19,533.17 L1043.52,533.68 L1044.84,534.20 L1046.15,534.76 L1047.45,535.33 L1048.74,535.93 L1050.02,536.56 L1051.28,537.21 L1052.53,537.88 L1053.77,538.58 L1054.99,539.30 L1056.20,540.04 L1057.39,540.81 L1058.57,541.60 L1059.73,542.41 L1060.87,543.24 L1062.00,544.09 L1063.11,544.96 L1064.20,545.86 L1065.27,546.78 L1066.32,547.71 L1067.36,548.67 L1068.37,549.64 L1069.37,550.64 L1070.35,551.65 L1071.30,552.68 L1072.23,553.73 L1073.15,554.79 L1074.04,555.88 L1074.90,556.98 L1075.75,558.09 L1076.57,559.23 L1077.37,560.37 L1078.15,561.53 L1078.90,562.71 L1079.63,563.90 L1080.34,565.11 L1081.02,566.32 L1081.68,567.55 L1082.31,568.80 L1082.91,570.05 L1083.49,571.31 L1084.05,572.59 L1084.58,573.88 L1085.08,575.17 L1085.56,576.48 L1086.01,577.79 L1086.43,579.11 L1086.83,580.44 L1087.20,581.78 L1087.54,583.12 L1087.85,584.47 L1088.38,583.39 L1088.95,582.33 L1089.55,581.29 L1090.18,580.26 L1090.86,579.26 L1091.56,578.29 L1092.30,577.33 L1093.08,576.40 L1093.88,575.50 L1094.72,574.62 L1095.58,573.78 L1096.48,572.96 L1097.40,572.17 L1098.35,571.41 L1099.32,570.68 L1100.32,569.99 L1101.35,569.33 L1102.39,568.71 L1103.46,568.11 L1104.54,567.56 L1105.65,567.04 L1106.77,566.56 L1107.91,566.11 L1109.07,565.71 L1110.23,565.34 L1111.41,565.01 L1112.60,564.72 L1113.80,564.47 L1115.01,564.25 L1116.22,564.08 L1117.44,563.95 L1118.67,563.86 L1119.89,563.81 L1121.12,563.80 L1122.34,563.83 L1123.57,563.90 L1124.79,564.02 L1126.01,564.17 L1127.22,564.36 L1128.42,564.59 L1129.62,564.86 L1130.80,565.17 L1131.97,565.52 L1133.14,565.91 L1134.28,566.34 L1135.41,566.80 L1136.53,567.30 L1137.62,567.84 L1138.70,568.42 L1139.75,569.03 L1140.79,569.67 L1141.80,570.35 L1142.79,571.06 L1143.75,571.80 L1144.68,572.57 L1145.59,573.38 L1146.47,574.21 L1147.32,575.07 L1148.14,575.96 L1148.93,576.88 L1149.69,577.82 L1150.41,578.79 L1151.10,579.78 L1151.75,580.79 L1152.37,581.83 L1152.95,582.88 L1153.50,583.95 L1154.00,585.04 L1154.47,586.14 L1154.90,587.26 L1155.30,588.40 L1155.65,589.54 L1155.96,590.70 L1156.23,591.87 L1156.46,593.04 L1156.65,594.23 L1156.80,595.41 L1156.91,596.60 L1156.98,597.80 L1157.00,598.99 L1156.98,600.19 L1156.92,601.39 L1156.82,602.58 L1156.68,603.77 L1156.50,604.95 L1156.28,606.13 L1156.01,607.29 L1155.71,608.45 L1155.36,609.60 L1154.98,610.74 L1154.55,611.86 L1154.09,612.97 L1153.59,614.06 L1153.05,615.13 L1152.47,616.19 L1151.86,617.23 L1151.21,618.24 L1150.53,619.24 L1149.81,620.21 L1149.06,621.15 L1148.28,622.08 L1147.47,622.97 L1146.62,623.84 L1145.75,624.68 L1144.85,625.49 L1143.91,626.27 L1142.96,627.01 L1141.97,627.73 L1140.97,628.41 L1139.94,629.06 L1138.89,629.68 L1137.81,630.26 L1136.72,630.80 L1135.61,631.31 L1134.48,631.78 L1133.34,632.22 L1132.18,632.61 L1131.01,632.97 L1129.83,633.29 L1128.63,633.56 L1127.43,633.80 L1126.22,634.00 L1125.01,634.16 L1123.78,634.28 L1122.56,634.36 L1121.33,634.40 L1120.11,634.39 L1118.88,634.35 L1117.66,634.27 L1116.44,634.14 L1115.22,633.98 L1114.01,633.77 L1112.81,633.53 L1111.62,633.25 L1110.44,632.92 L1109.27,632.56 L1108.11,632.16 L1106.97,631.72 L1105.85,631.25 L1104.74,630.73 L1103.65,630.19 L1102.58,629.60 L1101.53,628.98 L1100.50,628.33 L1099.50,627.64 L1098.52,626.92 L1097.56,626.17 L1096.64,625.38 L1095.74,624.57 L1094.87,623.73 L1094.02,622.86 L1093.21,621.96 L1092.44,621.03 L1091.69,620.08 L1090.98,619.11 L1090.30,618.11 L1089.66,617.09 L1089.05,616.05 L1088.48,615.00 Z" fill="none" stroke="#000" stroke-width="3.0" stroke-linejoin="miter" stroke-miterlimit="10"/>
<text x="887.5" y="450.4" class="t" font-size="19.5" font-style="italic">F<tspan font-size="14" dy="4.2">1</tspan><tspan dy="-4.2">: 0.7</tspan></text><text x="887.5" y="473.5" class="t" font-size="19.5" font-style="italic">mAP: 0.3</text><text x="887.5" y="496.8" class="t" font-size="19.5" font-style="italic">IoU: 1.0</text><text x="887.5" y="520.1" class="t" font-size="19.5" font-style="italic">PQ: 0.5</text>
<text x="1047.5" y="762.6" text-anchor="middle" class="t" font-size="21.45" font-style="italic"><tspan font-weight="bold">Case 2:</tspan> under-segmentation</text>
<circle cx="1498.3" cy="599.7" r="34.8" fill="#a7c8ea"/><circle cx="1498.3" cy="599.7" r="34.199999999999996" fill="none" stroke="#9cc3ea" stroke-width="1"/>
<circle cx="1388.9" cy="600" r="70" fill="#a7c8ea"/><circle cx="1388.9" cy="600" r="68.0" fill="none" stroke="#c0e3fd" stroke-width="1"/><circle cx="1388.9" cy="600" r="70" fill="none" stroke="#000" stroke-width="3.0"/>
<circle cx="1544" cy="489" r="35" fill="none" stroke="#000" stroke-width="3.0"/>
<text x="1262.5" y="450.4" class="t" font-size="19.5" font-style="italic">F<tspan font-size="14" dy="4.2">1</tspan><tspan dy="-4.2">: 0.5</tspan></text><text x="1262.5" y="473.5" class="t" font-size="19.5" font-style="italic">mAP: 0.3</text><text x="1262.5" y="496.8" class="t" font-size="19.5" font-style="italic">IoU: 0.7</text><text x="1262.5" y="520.1" class="t" font-size="19.5" font-style="italic">PQ: 0.5</text>
<text x="1422.5" y="762.6" text-anchor="middle" class="t" font-size="21.45" font-style="italic"><tspan font-weight="bold">Case 3:</tspan> partial segmentation + ghost</text>
<rect x="580.2" y="816.6" width="40.2" height="5.8" fill="#000"/>
<text x="633.3" y="825.5" class="t" font-size="21.7" font-style="italic">Predicted segmentation</text>
<rect x="858.8" y="813.5" width="40.2" height="13.9" fill="#a7c8ea"/>
<text x="913.6" y="826.6" class="t" font-size="21.7" font-style="italic">Ground Truth</text>
</svg></body></html>
